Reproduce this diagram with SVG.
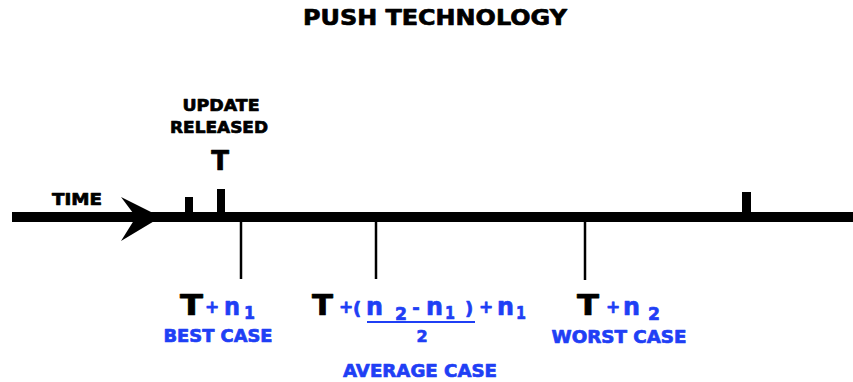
<svg xmlns="http://www.w3.org/2000/svg" width="853" height="382" viewBox="0 0 853 382">
<style>
text{font-family:"DejaVu Sans","Liberation Sans",sans-serif;font-weight:bold;stroke-width:0.7;stroke-linejoin:round}
.k{fill:#000;stroke:#000}
.b{fill:#1f3ff5;stroke:#1f3ff5}
.lbl{font-size:16px}
.big{font-size:28px}
.n{font-size:25px}
.s{font-size:18px}
.p{font-size:17px}
.case{font-size:17px}
</style>
<rect width="853" height="382" fill="#fff"/>
<text class="k" x="435" y="25" text-anchor="middle" font-size="22" textLength="264" lengthAdjust="spacingAndGlyphs">PUSH TECHNOLOGY</text>
<g id="axis">
<rect x="12" y="212" width="841" height="10" fill="#000"/>
<polygon points="161,217 121,197 136,217 121,241" fill="#000"/>
</g>
<g id="ticks">
<rect x="185" y="197" width="8" height="16" fill="#000"/>
<rect x="217" y="189" width="8" height="24" fill="#000"/>
<rect x="742" y="192" width="9" height="21" fill="#000"/>
</g>
<g id="connectors" stroke="#000" stroke-width="2.5">
<line x1="241" y1="222" x2="241" y2="279"/>
<line x1="376" y1="222" x2="376" y2="279"/>
<line x1="585" y1="222" x2="585" y2="280"/>
</g>
<g id="time">
<text class="k lbl" x="77" y="205" text-anchor="middle" textLength="50" lengthAdjust="spacingAndGlyphs">TIME</text>
</g>
<g id="update">
<text class="k lbl" x="221" y="111" text-anchor="middle" textLength="77" lengthAdjust="spacingAndGlyphs">UPDATE</text>
<text class="k lbl" x="219" y="133" text-anchor="middle" textLength="98" lengthAdjust="spacingAndGlyphs">RELEASED</text>
<text class="k" x="220" y="170" text-anchor="middle" font-size="26">T</text>
</g>
<g id="best">
<text class="k big" x="180" y="315" textLength="23" lengthAdjust="spacingAndGlyphs">T</text>
<text class="b p" x="212" y="313" text-anchor="middle">+</text>
<text class="b n" x="224" y="315" textLength="16" lengthAdjust="spacingAndGlyphs">n</text>
<text class="b s" x="244" y="319" textLength="11" lengthAdjust="spacingAndGlyphs">1</text>
<text class="b case" x="218" y="342" text-anchor="middle" textLength="109" lengthAdjust="spacingAndGlyphs">BEST CASE</text>
</g>
<g id="average">
<text class="k big" x="312" y="315" textLength="21" lengthAdjust="spacingAndGlyphs">T</text>
<text class="b p" x="346" y="313" text-anchor="middle">+</text>
<text class="b s" x="357" y="315" text-anchor="middle">(</text>
<text class="b n" x="366" y="315" textLength="17" lengthAdjust="spacingAndGlyphs">n</text>
<text class="b s" x="395" y="320" textLength="12" lengthAdjust="spacingAndGlyphs">2</text>
<text class="b s" x="416" y="314" text-anchor="middle">-</text>
<text class="b n" x="426" y="315" textLength="17" lengthAdjust="spacingAndGlyphs">n</text>
<text class="b s" x="445" y="319" textLength="10" lengthAdjust="spacingAndGlyphs">1</text>
<text class="b s" x="469" y="315" text-anchor="middle">)</text>
<text class="b p" x="486" y="313" text-anchor="middle">+</text>
<text class="b n" x="497" y="315" textLength="17" lengthAdjust="spacingAndGlyphs">n</text>
<text class="b s" x="516" y="319" textLength="10" lengthAdjust="spacingAndGlyphs">1</text>
<line x1="367" y1="322" x2="475" y2="322" stroke="#1f3ff5" stroke-width="2"/>
<text class="b" x="422" y="342" text-anchor="middle" font-size="16">2</text>
<text class="b case" x="420" y="377" text-anchor="middle" textLength="154" lengthAdjust="spacingAndGlyphs">AVERAGE CASE</text>
</g>
<g id="worst">
<text class="k big" x="577" y="315" textLength="22" lengthAdjust="spacingAndGlyphs">T</text>
<text class="b p" x="613" y="313" text-anchor="middle">+</text>
<text class="b n" x="623" y="315" textLength="17" lengthAdjust="spacingAndGlyphs">n</text>
<text class="b s" x="648" y="320" textLength="12" lengthAdjust="spacingAndGlyphs">2</text>
<text class="b case" x="619" y="343" text-anchor="middle" textLength="135" lengthAdjust="spacingAndGlyphs">WORST CASE</text>
</g>
</svg>
